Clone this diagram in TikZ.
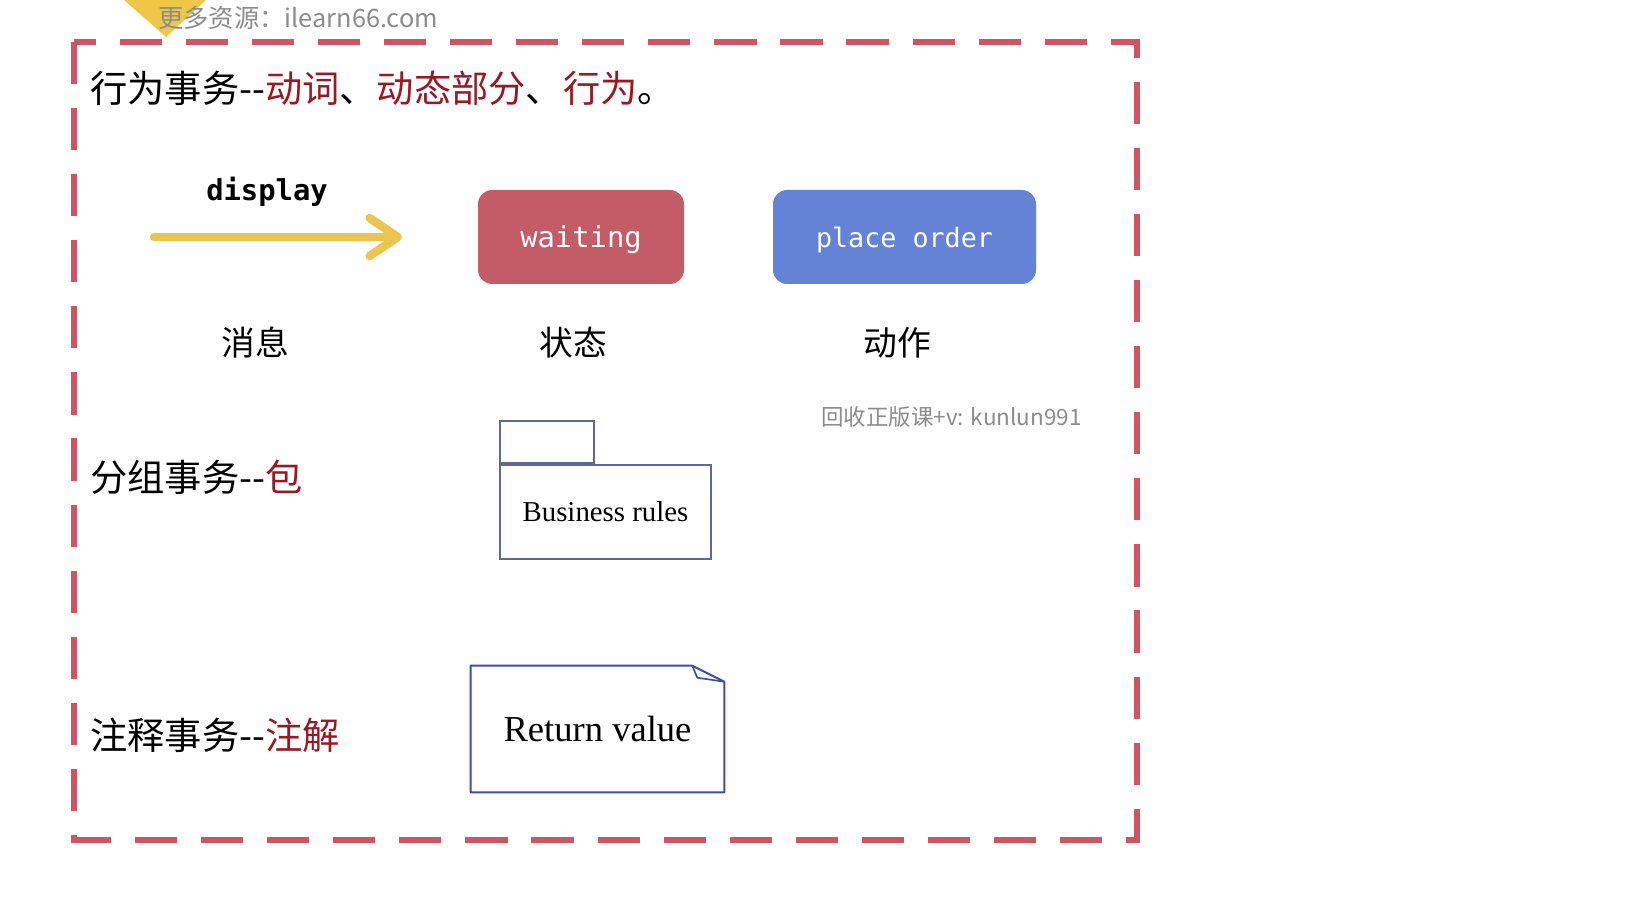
\documentclass[tikz,border=0pt]{standalone}
\usepackage{fontspec}
\setmainfont{Liberation Serif}
\setmonofont{DejaVu Sans Mono}
\newfontfamily\cjk{Noto Sans CJK SC}
\usetikzlibrary{arrows.meta}
\usetikzlibrary{calc}
\definecolor{framered}{RGB}{205,85,100}
\definecolor{keyred}{RGB}{150,25,35}
\definecolor{msgyellow}{RGB}{236,196,80}
\definecolor{waitred}{RGB}{196,92,104}
\definecolor{actblue}{RGB}{101,131,214}
\definecolor{pkgline}{RGB}{95,105,150}
\definecolor{noteline}{RGB}{60,80,165}
\definecolor{markgray}{RGB}{140,140,140}
\definecolor{tabyellow}{RGB}{240,198,72}

\begin{document}
\begin{tikzpicture}[x=0.25mm,y=-0.25mm,
    heading/.style={anchor=west,inner sep=0pt,font=\cjk\fontsize{26.5}{30}\selectfont},
    kind/.style={inner sep=0pt,font=\cjk\fontsize{24}{28}\selectfont},
    codebox/.style={rounded corners=10pt,inner sep=0pt,text=white,text depth=0pt,minimum height=23.5mm,font=\ttfamily\fontsize{20.5}{24}\selectfont},
    umlline/.style={draw=pkgline,line width=1.4pt,inner sep=0pt},
    watermark/.style={anchor=west,inner sep=0pt,text=markgray,font=\cjk\fontsize{16}{19}\selectfont}]
    \useasboundingbox (0,0) rectangle (1650,920);
    \fill[tabyellow] (124,0) -- (206,0) -- (166,37) -- cycle;
    \node[watermark,font=\cjk\fontsize{18}{21}\selectfont] (wmtop) at (158,18) {更多资源：ilearn66.com};
    \draw[framered,line width=3.6pt,dash pattern=on 30pt off 17pt] (74,42) rectangle (1137,840);

    \node[heading] (behave) at (90,88) {行为事务--\textcolor{keyred}{动词}、\textcolor{keyred}{动态部分}、\textcolor{keyred}{行为}。};

    \node[inner sep=0pt,font=\ttfamily\bfseries\fontsize{20.5}{24}\selectfont] (msgname) at (267,192) {display};
    \coordinate (msgtail) at (154,237);
    \coordinate (msghead) at (402,237);
    \draw[msgyellow,line width=6pt,line cap=round,-{Straight Barb[length=20pt,width=27pt,round]}] (msgtail) -- (msghead);
    \node[codebox,fill=waitred,minimum width=51.5mm] (waiting) at (581,237) {waiting};
    \node[codebox,fill=actblue,minimum width=65.75mm,font=\ttfamily\fontsize{19}{22}\selectfont] (placeorder) at (904.5,237) {place order};

    \node[kind] (msglabel) at (255,343) {消息};
    \node[kind] (statelabel) at (573,343) {状态};
    \node[kind] (actlabel) at (897,343) {动作};

    \node[watermark] (wmmid) at (821,417) {回收正版课+v: kunlun991};

    \node[heading] (group) at (90,477) {分组事务--\textcolor{keyred}{包}};
    \node[umlline,minimum width=52.75mm,minimum height=23.5mm,font=\fontsize{20.5}{24}\selectfont] (pkg) at (605.5,512) {Business rules};
    \node[umlline,anchor=south west,minimum width=23.5mm,minimum height=10.5mm] (pkgtab) at (pkg.north west) {};

    \node[heading] (comment) at (90,735) {注释事务--\textcolor{keyred}{注解}};
    \node[inner sep=0pt,minimum width=63.25mm,minimum height=31.5mm,font=\fontsize{26}{30}\selectfont] (note) at (597.5,729) {Return value};
    \draw[noteline,line width=1.4pt,line join=round] (note.north west) -- ($(note.north east)+(-32,0)$) -- ($(note.north east)+(0,16)$) -- (note.south east) -- (note.south west) -- cycle;
    \draw[noteline,line width=1.2pt,line join=round] ($(note.north east)+(-32,0)$) -- ($(note.north east)+(-27,12)$) -- ($(note.north east)+(0,16)$);
\end{tikzpicture}
\end{document}
